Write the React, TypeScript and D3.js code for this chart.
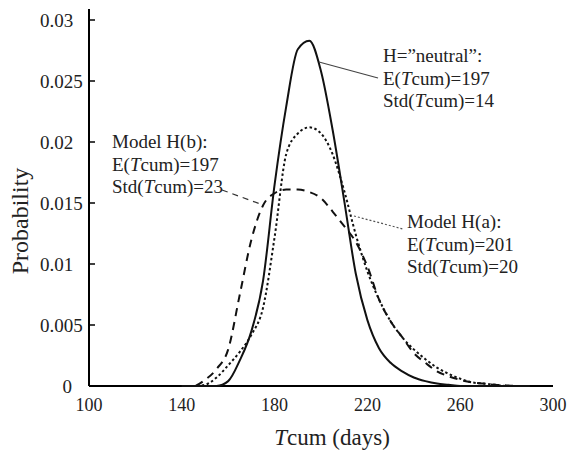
import React, { useEffect, useRef } from 'react';
import * as d3 from 'd3';

// Tcum grid (days)
const tcum = [140, 145, 150, 155, 160, 165, 170, 175, 180, 185, 190, 195, 200, 205, 210, 215, 220, 225, 230, 235, 240, 245, 250, 255, 260, 265, 270, 275, 280, 285, 290];

// H="neutral" (solid)
const neutral = [0, 0, 0, 0, 0.0004, 0.0021, 0.0045, 0.0086, 0.0165, 0.0229, 0.0276, 0.0283, 0.0258, 0.021, 0.0152, 0.0092, 0.0054, 0.0031, 0.0019, 0.0012, 0.0007, 0.0004, 0.0002, 0.0001, 0, 0, 0, 0, 0, 0, 0];
// Model H(a) (dotted)
const modelA = [0, 0, 0.0001, 0.0007, 0.0017, 0.0028, 0.0042, 0.0064, 0.0122, 0.019, 0.0207, 0.0212, 0.0207, 0.019, 0.016, 0.0124, 0.0094, 0.0071, 0.0053, 0.004, 0.003, 0.0022, 0.0015, 0.001, 0.0006, 0.0003, 0.0002, 0.0001, 0, 0, 0];
// Model H(b) (dashed)
const modelB = [0, 0, 0.0005, 0.0014, 0.003, 0.0075, 0.012, 0.0148, 0.0158, 0.0161, 0.0161, 0.0159, 0.0154, 0.0143, 0.0131, 0.0118, 0.0098, 0.0071, 0.0053, 0.004, 0.0027, 0.0019, 0.0012, 0.0008, 0.0005, 0.0003, 0.0002, 0.0001, 0.00005, 0, 0];

const xTicks = [100, 140, 180, 220, 260, 300];
const yTicks = [0, 0.005, 0.01, 0.015, 0.02, 0.025, 0.03];

const W = 569;
const H = 451;
const font = '"Liberation Serif", "Times New Roman", serif';

const App = () => {
  const ref = useRef<SVGSVGElement>(null);

  useEffect(() => {
    const svg = d3.select(ref.current);
    svg.selectAll('*').remove();

    const x = d3.scaleLinear().domain([100, 300]).range([89, 553]);
    const y = d3.scaleLinear().domain([0, 0.03]).range([386, 20]);

    // axes
    svg.append('line').attr('x1', x(100)).attr('x2', x(100)).attr('y1', 9).attr('y2', y(0))
      .attr('stroke', '#000').attr('stroke-width', 2);
    svg.append('line').attr('x1', x(100)).attr('x2', x(300)).attr('y1', y(0)).attr('y2', y(0))
      .attr('stroke', '#000').attr('stroke-width', 2);

    yTicks.forEach(t => {
      svg.append('line').attr('x1', x(100)).attr('x2', x(100) + 6).attr('y1', y(t)).attr('y2', y(t))
        .attr('stroke', '#000').attr('stroke-width', 1.5);
      const lab = t === 0 ? '0' : String(t);
      svg.append('text')
        .attr('x', t === 0 ? 72 : 40)
        .attr('y', y(t))
        .attr('dy', '0.35em')
        .attr('text-anchor', t === 0 ? 'end' : 'start')
        .attr('font-family', font).attr('font-size', 19).attr('fill', '#222')
        .text(lab);
    });

    xTicks.forEach(t => {
      svg.append('text')
        .attr('x', x(t)).attr('y', 411)
        .attr('text-anchor', 'middle')
        .attr('font-family', font).attr('font-size', 18).attr('fill', '#222')
        .text(t);
    });

    // axis titles
    const xt = svg.append('text').attr('x', 332).attr('y', 445).attr('text-anchor', 'middle')
      .attr('font-family', font).attr('font-size', 23).attr('fill', '#222');
    xt.append('tspan').attr('font-style', 'italic').text('T');
    xt.append('tspan').text('cum (days)');

    svg.append('text').attr('transform', 'translate(28,221) rotate(-90)').attr('text-anchor', 'middle')
      .attr('font-family', font).attr('font-size', 24).attr('fill', '#222').text('Probability');

    // curves
    const line = d3.line<number>()
      .x((d, i) => x(tcum[i]))
      .y(d => y(d))
      .curve(d3.curveMonotoneX);

    svg.append('path').datum(modelB).attr('d', line).attr('fill', 'none')
      .attr('stroke', '#111').attr('stroke-width', 2).attr('stroke-dasharray', '8,6');
    svg.append('path').datum(modelA).attr('d', line).attr('fill', 'none')
      .attr('stroke', '#111').attr('stroke-width', 2).attr('stroke-dasharray', '2.5,2.5');
    svg.append('path').datum(neutral).attr('d', line).attr('fill', 'none')
      .attr('stroke', '#111').attr('stroke-width', 2);

    // annotations
    const note = (x0: number, y0: number, lines: [string, string, string][]) => {
      lines.forEach((l, i) => {
        const t = svg.append('text').attr('x', x0).attr('y', y0 + i * 22.5)
          .attr('font-family', font).attr('font-size', 19).attr('fill', '#222');
        t.append('tspan').text(l[0]);
        if (l[1]) t.append('tspan').attr('font-style', 'italic').text(l[1]);
        if (l[2]) t.append('tspan').text(l[2]);
      });
    };
    note(383, 62, [['H=\u201dneutral\u201d:', '', ''], ['E(', 'T', 'cum)=197'], ['Std(', 'T', 'cum)=14']]);
    note(112, 148, [['Model H(b):', '', ''], ['E(', 'T', 'cum)=197'], ['Std(', 'T', 'cum)=23']]);
    note(407, 228, [['Model H(a):', '', ''], ['E(', 'T', 'cum)=201'], ['Std(', 'T', 'cum)=20']]);

    // leader lines
    svg.append('line').attr('x1', 319).attr('y1', 62).attr('x2', 378).attr('y2', 78)
      .attr('stroke', '#444').attr('stroke-width', 1.2);
    svg.append('line').attr('x1', 222).attr('y1', 190).attr('x2', 263).attr('y2', 205)
      .attr('stroke', '#333').attr('stroke-width', 1.2).attr('stroke-dasharray', '6,5');
    svg.append('line').attr('x1', 354).attr('y1', 216).attr('x2', 403).attr('y2', 229)
      .attr('stroke', '#555').attr('stroke-width', 1.2).attr('stroke-dasharray', '2,2');
  }, []);

  return (
    <svg ref={ref} width={W} height={H}
      style={{ position: 'absolute', left: 0, top: 0, background: '#fff' }} />
  );
};

export default App;
